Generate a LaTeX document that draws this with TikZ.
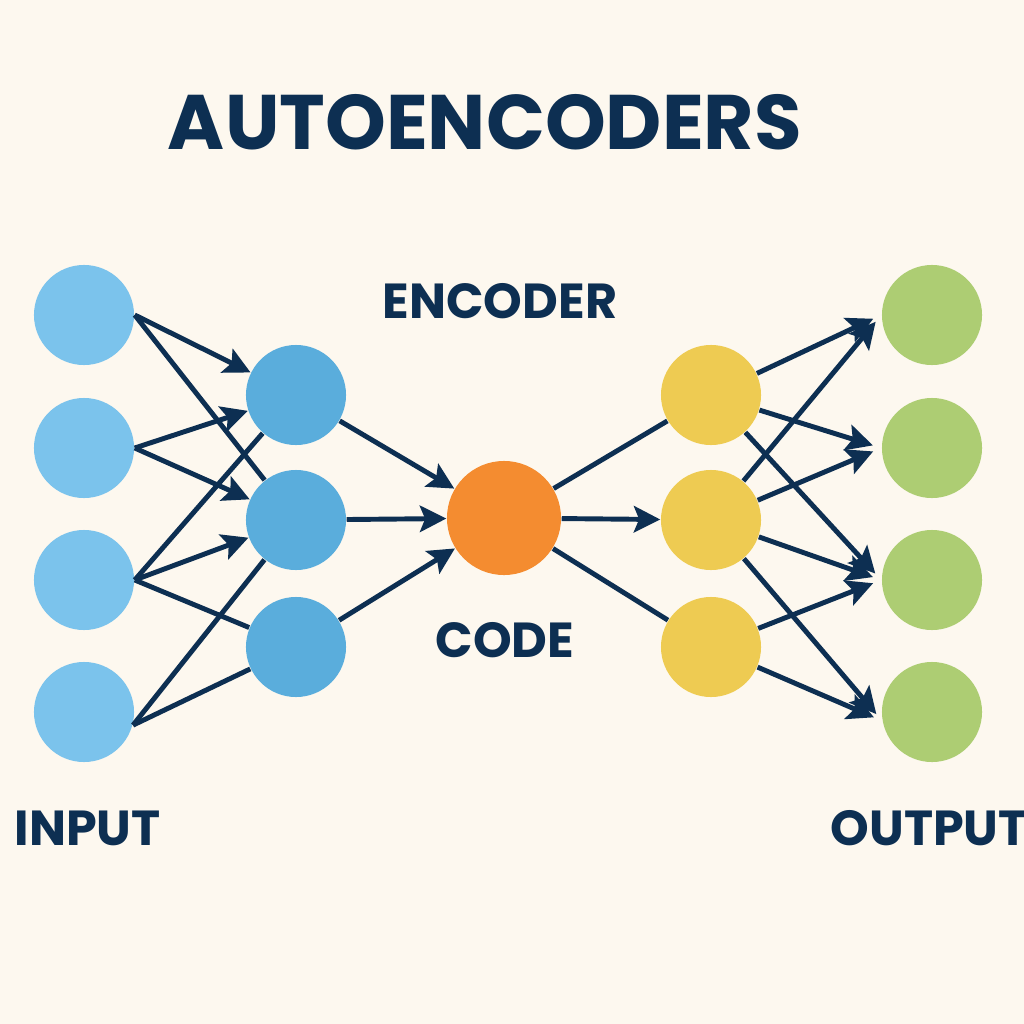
\documentclass[tikz,border=0pt]{standalone}
\usepackage{fontspec}
\setmainfont{Poppins}
\usetikzlibrary{arrows.meta}

\definecolor{bgcream}{HTML}{FDF8EF}
\definecolor{navy}{HTML}{0D2F52}
\definecolor{inblue}{HTML}{7BC3EC}
\definecolor{hidblue}{HTML}{5AADDC}
\definecolor{codeorange}{HTML}{F48C30}
\definecolor{decyellow}{HTML}{EECB52}
\definecolor{outgreen}{HTML}{ADCD73}

\begin{document}
\begin{tikzpicture}[x=0.01cm, y=-0.01cm,
    neuron/.style={circle, minimum size=1cm, inner sep=0pt},
    link/.style={line width=1.4pt, color=navy},
    arr/.style={link, -{Stealth[length=7.5pt, width=7.5pt, inset=1.5pt]}},
    lbl/.style={text=navy, inner sep=0pt, font=\bfseries\fontsize{14}{16}\selectfont}]
      \fill [bgcream] (0,0) rectangle (1024,1024);
      \useasboundingbox (0,0) rectangle (1024,1024);
      \node [lbl, font=\bfseries\fontsize{22}{26}\selectfont] (title) at (485,122) {AUTOENCODERS};
      \foreach \y [count=\i] in {315,448,580,712} {
        \node [neuron, fill=inblue] (in\i) at (84,\y) {};
        \node [neuron, fill=outgreen] (out\i) at (932,\y) {};
      }
      \foreach \y [count=\i] in {395,520,647} {
        \node [neuron, fill=hidblue] (enc\i) at (296,\y) {};
        \node [neuron, fill=decyellow] (dec\i) at (711,\y) {};
      }
      \node [neuron, minimum size=1.14cm, fill=codeorange] (code) at (504,518) {};
      \node [lbl] (enclbl) at (500,301) {ENCODER};
      \node [lbl] (codelbl) at (505,640) {CODE};
      \node [lbl, anchor=west] (inlbl) at (14,828) {INPUT};
      \node [lbl, anchor=west] (outlbl) at (830,828) {OUTPUT};
      \draw [arr] (in1.east) -- (enc1);
      \draw [link] (in1.east) -- (enc2);
      \draw [arr] (in2.east) -- (enc1);
      \draw [arr] (in2.east) -- (enc2);
      \draw [link] (in3.east) -- (enc1);
      \draw [arr] (in3.east) -- (enc2);
      \draw [link] (in3.east) -- (enc3);
      \draw [link] (in4.-15) -- (enc2);
      \draw [link] (in4.-15) -- (enc3);
      \foreach \i in {1,2,3}
        \draw [arr] (enc\i) -- (code);
      \draw [link] (code) -- (dec1);
      \draw [arr] (code) -- (dec2);
      \draw [link] (code) -- (dec3);
      \draw [arr, shorten >=2.5pt] (dec1) -- (out1.west);
      \draw [arr, shorten >=2.5pt] (dec1) -- (out2.west);
      \draw [arr, shorten >=2.5pt] (dec1) -- (out3.west);
      \draw [arr, shorten >=2.5pt] (dec2) -- (out1.west);
      \draw [arr, shorten >=2.5pt] (dec2) -- (out2.west);
      \draw [arr, shorten >=2.5pt] (dec2) -- (out3.west);
      \draw [arr, shorten >=2.5pt] (dec2) -- (out4.-170);
      \draw [arr, shorten >=2.5pt] (dec3) -- (out3.west);
      \draw [arr, shorten >=2.5pt] (dec3) -- (out4.-170);
    \end{tikzpicture}
\end{document}
